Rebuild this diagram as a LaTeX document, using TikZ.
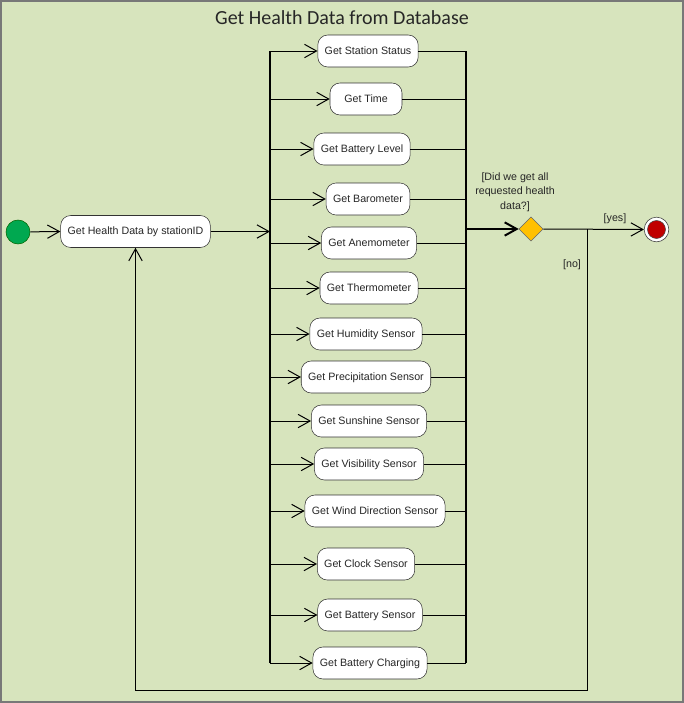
\documentclass[tikz,border=0pt]{standalone}
\usepackage{fontspec}
\setmainfont{Liberation Sans}
\newfontfamily\titlefont{Carlito}
\usepackage{tikz}
\usetikzlibrary{arrows.meta,shapes.geometric}
\definecolor{bggreen}{RGB}{215,228,189}
\definecolor{framegray}{RGB}{120,120,120}
\definecolor{startgreen}{RGB}{0,168,80}
\definecolor{decgold}{RGB}{255,192,0}
\definecolor{endred}{RGB}{192,0,0}

\begin{document}
\begin{tikzpicture}[x=0.75pt,y=0.75pt,yscale=-1,xscale=1,
    act/.style={draw=black!80, fill=white, rounded corners=7.5pt, minimum height=24pt, inner xsep=5.2pt, text height=6.2pt, text depth=1.7pt, font=\fontsize{8}{9.6}\selectfont, text=black!85},
    lbl/.style={font=\fontsize{8}{11}\selectfont, text=black!85, inner sep=0.75pt},
    flow/.style={-{Straight Barb[length=9pt,width=10pt]}, line width=0.75pt},
    bar/.style={line width=1.1pt}]

        \useasboundingbox (0,0) rectangle (684,703);
        \draw [fill=bggreen, draw=framegray, line width=1.5pt] (1,1) rectangle (683,702);
        \node [font=\titlefont\fontsize{15}{18}\selectfont, text=black!85] (title) at (342,18) {Get Health Data from Database};

        % start and main action
        \node [circle, draw=green!40!black, fill=startgreen, minimum size=18pt, inner sep=0pt] (start) at (18,232) {};
        \node [act] (main) at (135.5,231.5) {Get Health Data by stationID};

        % parallel actions
        \node [act] (stat) at (368,51) {Get Station Status};
        \node [act, minimum width=54pt] (time) at (366,99) {Get Time};
        \node [act] (batlev) at (362,149) {Get Battery Level};
        \node [act] (baro) at (368,199) {Get Barometer};
        \node [act] (anemo) at (369,243) {Get Anemometer};
        \node [act] (thermo) at (369,288) {Get Thermometer};
        \node [act] (humid) at (366,334) {Get Humidity Sensor};
        \node [act] (precip) at (366,377) {Get Precipitation Sensor};
        \node [act] (sun) at (369,421) {Get Sunshine Sensor};
        \node [act] (visib) at (369,464) {Get Visibility Sensor};
        \node [act] (wind) at (375,511) {Get Wind Direction Sensor};
        \node [act] (clock) at (366,564) {Get Clock Sensor};
        \node [act] (batsen) at (370,615) {Get Battery Sensor};
        \node [act] (charg) at (370,663) {Get Battery Charging};

        % decision and end
        \node [diamond, draw=black!60, fill=decgold, minimum width=18pt, minimum height=18pt, inner sep=0pt] (dec) at (531,229) {};
        \node [lbl, align=center] (ask) at (515,192) {[Did we get all\\requested health\\data?]};
        \node [circle, draw=black!80, fill=white, minimum size=18.5pt, inner sep=0pt] (fin) at (656.5,229.5) {};
        \node [circle, draw=black!70, fill=endred, minimum size=13.5pt, inner sep=0pt] (findot) at (fin.center) {};
        \coordinate (forkL) at (270,0);
        \coordinate (joinR) at (466,0);
        \coordinate (split) at (587,229);
        \coordinate (bot) at (0,690);

        \draw [flow] (start) -- (main.west);
        \draw [flow] (main.east) -- (main.east -| forkL);
        \draw [bar] (stat -| forkL) -- (charg -| forkL);
        \draw [bar] (stat -| joinR) -- (charg -| joinR);

        \draw [flow] (stat -| forkL) -- (stat.west);
        \draw [flow] (time -| forkL) -- (time.west);
        \draw [flow] (batlev -| forkL) -- (batlev.west);
        \draw [flow] (baro -| forkL) -- (baro.west);
        \draw [flow] (anemo -| forkL) -- (anemo.west);
        \draw [flow] (thermo -| forkL) -- (thermo.west);
        \draw [flow] (humid -| forkL) -- (humid.west);
        \draw [flow] (precip -| forkL) -- (precip.west);
        \draw [flow] (sun -| forkL) -- (sun.west);
        \draw [flow] (visib -| forkL) -- (visib.west);
        \draw [flow] (wind -| forkL) -- (wind.west);
        \draw [flow] (clock -| forkL) -- (clock.west);
        \draw [flow] (batsen -| forkL) -- (batsen.west);
        \draw [flow] (charg -| forkL) -- (charg.west);

        \draw (stat.east) -- (stat -| joinR);
        \draw (time.east) -- (time -| joinR);
        \draw (batlev.east) -- (batlev -| joinR);
        \draw (baro.east) -- (baro -| joinR);
        \draw (anemo.east) -- (anemo -| joinR);
        \draw (thermo.east) -- (thermo -| joinR);
        \draw (humid.east) -- (humid -| joinR);
        \draw (precip.east) -- (precip -| joinR);
        \draw (sun.east) -- (sun -| joinR);
        \draw (visib.east) -- (visib -| joinR);
        \draw (wind.east) -- (wind -| joinR);
        \draw (clock.east) -- (clock -| joinR);
        \draw (batsen.east) -- (batsen -| joinR);
        \draw (charg.east) -- (charg -| joinR);

        \draw [flow, line width=1.5pt] (dec -| joinR) -- (dec.west);
        \draw [flow] (dec.east) -- (fin.west);
        \draw [flow] (split) -- (split |- bot) -| (main.south);

        \node [lbl] (yes) at (615,219) {[yes]};
        \node [lbl] (no) at (572,265) {[no]};
\end{tikzpicture}
\end{document}
